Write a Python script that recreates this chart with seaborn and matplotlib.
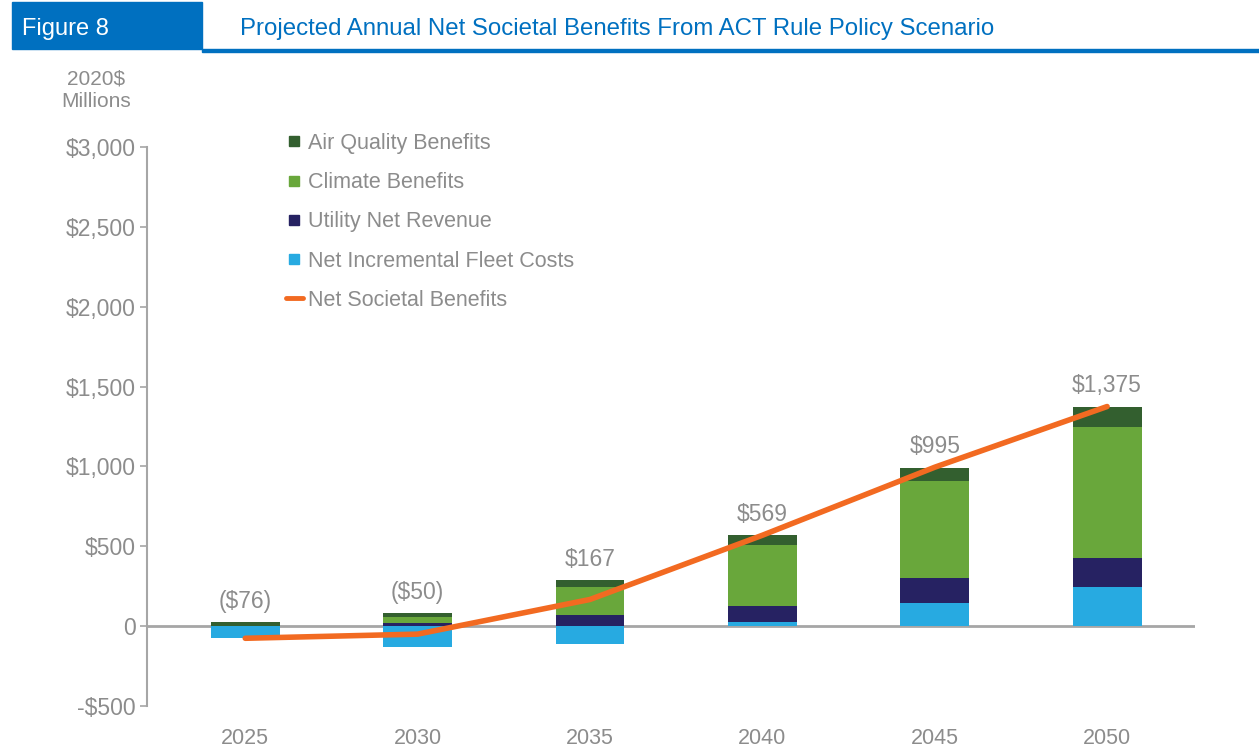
import numpy as np
import matplotlib
matplotlib.use("Agg")
import matplotlib.pyplot as plt
import seaborn as sns
from matplotlib.lines import Line2D
from matplotlib.patches import Rectangle

sns.set_style("white")
plt.rcParams['font.family'] = ['Liberation Sans', 'DejaVu Sans']

# dati (milioni di $ 2020)
years = ['2025', '2030', '2035', '2040', '2045', '2050']
air_quality = [25, 23, 44, 63, 81, 125]
climate = [0, 38, 175, 382, 607, 820]
utility = [0, 20, 69, 100, 157, 182]
fleet_costs = [-75, -130, -113, 25, 147, 247]
net_benefits = [-76, -50, 167, 569, 995, 1375]

C_AIR = '#335F2F'
C_CLIM = '#69A73B'
C_UTIL = '#262262'
C_FLEET = '#27AAE1'
C_NET = '#F26A21'
C_GREY = '#8C8C8C'
C_BLUE = '#0070C0'

fig = plt.figure(figsize=(12.59, 7.48), dpi=100)
W, H = 1259, 748
ax = fig.add_axes([147 / W, 1 - 706 / H, (1195 - 147) / W, (706 - 147) / H])

# cumulati per lo stack (parte positiva)
fleet_pos = np.maximum(fleet_costs, 0)
fleet_neg = np.minimum(fleet_costs, 0)
lvl1 = fleet_pos
lvl2 = lvl1 + np.array(utility)
lvl3 = lvl2 + np.array(climate)
lvl4 = lvl3 + np.array(air_quality)

bw = 0.4
for vals, col in [(lvl4, C_AIR), (lvl3, C_CLIM), (lvl2, C_UTIL), (lvl1, C_FLEET), (fleet_neg, C_FLEET)]:
    sns.barplot(x=years, y=vals, color=col, width=bw, saturation=1, ax=ax, zorder=2,
                linewidth=0, edgecolor='none')

ax.axhline(0, color='#A6A6A6', lw=2, zorder=1)

pos = np.arange(len(years))
sns.lineplot(x=pos, y=net_benefits, color=C_NET, lw=4, ax=ax, zorder=4, sort=False)

# etichette dei valori
for i, v in enumerate(net_benefits):
    lab = f'(${abs(v):,})' if v < 0 else f'${v:,}'
    ax.text(i, lvl4[i] + 130, lab, ha='center', va='center', fontsize=16.5, color=C_GREY)

ax.set_xlim(-0.57, 5.51)
ax.set_ylim(-500, 3000)
ax.set_yticks([-500, 0, 500, 1000, 1500, 2000, 2500, 3000])
ax.set_yticklabels(['-$500', '0', '$500', '$1,000', '$1,500', '$2,000', '$2,500', '$3,000'])
ax.tick_params(axis='y', length=5, width=1.2, color='#A6A6A6', pad=3, labelsize=16.5, labelcolor=C_GREY, left=True)
ax.tick_params(axis='x', length=0, pad=16, labelsize=15.5, labelcolor=C_GREY)
ax.set_xlabel('')
ax.set_ylabel('')
for s in ['top', 'right', 'bottom']:
    ax.spines[s].set_visible(False)
ax.spines['left'].set_color('#A6A6A6')
ax.spines['left'].set_linewidth(1.5)

# legenda
handles = [
    Line2D([], [], marker='s', ls='none', color=C_AIR, markersize=7),
    Line2D([], [], marker='s', ls='none', color=C_CLIM, markersize=7),
    Line2D([], [], marker='s', ls='none', color=C_UTIL, markersize=7),
    Line2D([], [], marker='s', ls='none', color=C_FLEET, markersize=7),
    Line2D([], [], color=C_NET, lw=3.5),
]
labels = ['Air Quality Benefits', 'Climate Benefits', 'Utility Net Revenue',
          'Net Incremental Fleet Costs', 'Net Societal Benefits']
leg = fig.legend(handles, labels, loc='upper left', bbox_to_anchor=(275 / W, 1 - 122 / H),
                 frameon=False, fontsize=15.5, labelcolor=C_GREY, handlelength=0.8,
                 handletextpad=0.25, labelspacing=0.85, borderpad=0)

# intestazione
fig.patches.append(Rectangle((12 / W, 1 - 49 / H), 190 / W, 47 / H, transform=fig.transFigure,
                             color=C_BLUE, zorder=0))
fig.patches.append(Rectangle((202 / W, 1 - 52 / H), (W - 202) / W, 3 / H, transform=fig.transFigure,
                             color=C_BLUE, zorder=0))
fig.text(22 / W, 1 - 29 / H, 'Figure 8', color='white', fontsize=17, va='center', ha='left')
fig.text(240 / W, 1 - 29 / H, 'Projected Annual Net Societal Benefits From ACT Rule Policy Scenario',
         color=C_BLUE, fontsize=17.3, va='center', ha='left')
fig.text(96 / W, 1 - 90 / H, '2020$\nMillions', color=C_GREY, fontsize=15, ha='center', va='center',
         linespacing=1.25)

fig.savefig('out.png', dpi=100)
